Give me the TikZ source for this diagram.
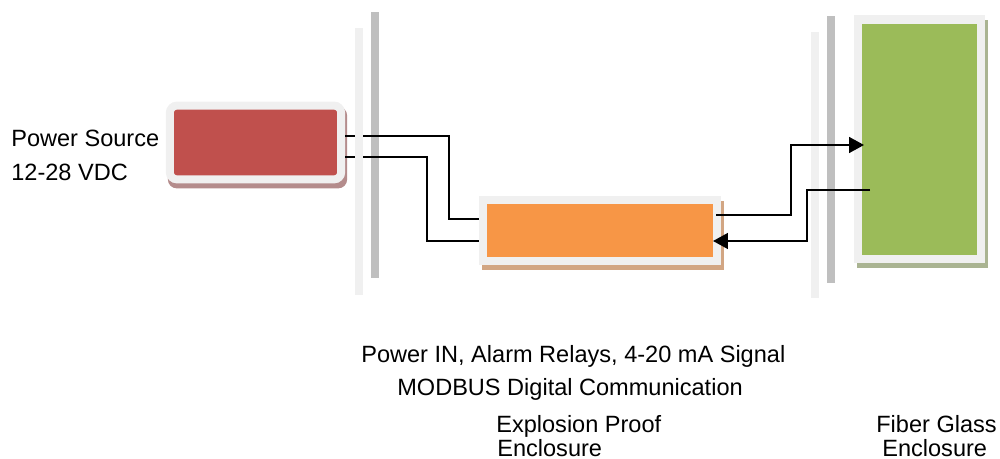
\documentclass[tikz,border=0pt]{standalone}
\usepackage{fontspec}
\setmainfont{Liberation Sans}
\usetikzlibrary{arrows.meta,backgrounds}

\definecolor{frame}{HTML}{F0F0F0}
\definecolor{wallgray}{HTML}{BFBFBF}
\definecolor{srcred}{HTML}{C0504D}
\definecolor{srcshade}{HTML}{B48C8C}
\definecolor{xporange}{HTML}{F79646}
\definecolor{xpshade}{HTML}{D2A683}
\definecolor{fggreen}{HTML}{9BBB59}
\definecolor{fgshade}{HTML}{AAB492}

\begin{document}
\begin{tikzpicture}[
  x=0.02cm,y=-0.02cm,
  every node/.style={font=\fontsize{13.4}{16}\selectfont,inner sep=0pt},
  unit/.style={draw=frame,line width=4.5pt},
  wire/.style={line width=0.75pt},
  sig/.style={line width=1.15pt,-{Triangle[length=8.5pt,width=9pt]}},
  lbl/.style={anchor=base west}
]
  \useasboundingbox (0,0) rectangle (1000,459);

  % walls
  \foreach \xa/\ya/\xb/\yb/\col in {371/12/379/278/wallgray,811/32/819/298/frame,827/16/835/283/wallgray}
    \fill[\col] (\xa,\ya) rectangle (\xb,\yb);

  \node[unit,fill=srcred,rounded corners=4pt,minimum width=97.5pt,minimum height=42pt] (src) at (255.5,142.5) {};
  \node[unit,fill=xporange,minimum width=132.7pt,minimum height=34.6pt] (xp) at (600,230.5) {};
  \node[unit,fill=fggreen,line width=4.8pt,minimum width=70pt,minimum height=136.3pt] (fg) at (919.25,139.25) {};

  \begin{scope}[on background layer]
    \fill[srcshade,rounded corners=5pt] ([shift={(2,5)}]src.north west) rectangle ([shift={(2,5)}]src.south east);
    \fill[xpshade] ([shift={(3,5)}]xp.north west) rectangle ([shift={(3,5)}]xp.south east);
    \fill[fgshade] ([shift={(3,5)}]fg.north west) rectangle ([shift={(3,5)}]fg.south east);
  \end{scope}

  % power lines
  \draw[wire] (src.east |- 0,136) -| (449,219) -- (xp.west |- 0,219);
  \draw[wire] (src.east |- 0,157) -| (427,241) -- (xp.west |- 0,241);
  \fill[frame] (355,28) rectangle (363,295);

  % data lines
  \coordinate (fgin) at (864,145);
  \coordinate (fgout) at (870,190);
  \coordinate (xpin) at (713,241);
  \draw[sig] (716,215) -| (791,145) -- (fgin);
  \draw[sig] (fgout) -| (807,241) -- (xpin);

  \node[lbl] (lsrc) at (11,146.5) {Power Source};
  \node[lbl] (lvdc) at (11,180.5) {12-28 VDC};
  \node[lbl] (lpwr) at (361,362) {Power IN, Alarm Relays, 4-20 mA Signal};
  \node[lbl] (lmod) at (397,395) {MODBUS Digital Communication};
  \node[lbl] (lxp) at (496,432) {Explosion Proof};
  \node[lbl] (lxpe) at (497,456.5) {Enclosure};
  \node[lbl] (lfg) at (876,432) {Fiber Glass};
  \node[lbl] (lfge) at (882,456.5) {Enclosure};
\end{tikzpicture}
\end{document}
